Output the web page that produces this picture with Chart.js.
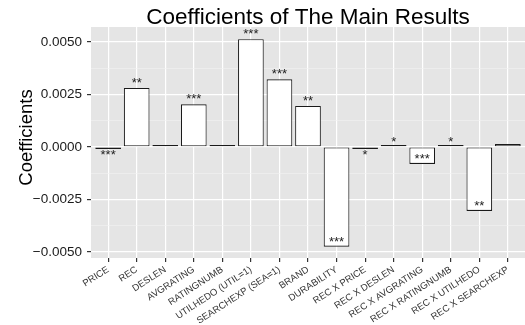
<!DOCTYPE html>
<html><head><meta charset="utf-8">
<script src="https://cdn.jsdelivr.net/npm/chart.js@4/dist/chart.umd.min.js"></script>
<style>html,body{margin:0;padding:0;background:#fff}#wrap{width:525px;height:325px}</style>
</head><body><div id="wrap"><canvas id="c" width="525" height="325"></canvas></div>
<script>
const categories = ['PRICE','REC','DESLEN','AVGRATING','RATINGNUMB','UTILHEDO (UTIL=1)','SEARCHEXP (SEA=1)','BRAND','DURABILITY','REC X PRICE','REC X DESLEN','REC X AVGRATING','REC X RATINGNUMB','REC X UTILHEDO','REC X SEARCHEXP'];
const coefficients = [-0.00003, 0.00281, 0.00002, 0.00203, 0.00002, 0.00513, 0.00322, 0.00195, -0.00475, -0.00003, 0.00002, -0.00081, 0.00002, -0.00305, 0.00014];
const significance = ['***','**','','***','','***','***','**','***','*','*','***','*','**',''];
const yTickValues = [-0.005, -0.0025, 0, 0.0025, 0.005];
const yLimits = [-0.00529, 0.00571];
const titleText = 'Coefficients of The Main Results';
const yAxisTitle = 'Coefficients';

const FONT = "'Liberation Sans', Arial, Helvetica, sans-serif";
const isMajor = v => yTickValues.some(t => Math.abs(t - v) < 1e-9);
const fmt = v => (Math.abs(v) < 1e-12 ? 0 : v).toFixed(4).replace('-', '\u2212');

const panelBg = {
  id: 'panelBg',
  beforeDraw(chart) {
    const a = chart.chartArea, ctx = chart.ctx;
    ctx.save(); ctx.fillStyle = '#e5e5e5';
    ctx.fillRect(a.left, a.top, a.right - a.left, a.bottom - a.top);
    ctx.restore();
  }
};
const titlePlugin = {
  id: 'ggTitle',
  afterDraw(chart) {
    const a = chart.chartArea, ctx = chart.ctx;
    ctx.save(); ctx.fillStyle = '#000'; ctx.font = '22.5px ' + FONT;
    ctx.textAlign = 'center'; ctx.textBaseline = 'alphabetic';
    ctx.fillText(titleText, (a.left + a.right) / 2, 23.5);
    // y axis title
    ctx.font = '18.5px ' + FONT;
    ctx.translate(32, (a.top + a.bottom) / 2 - 5);
    ctx.rotate(-Math.PI / 2);
    ctx.fillText(yAxisTitle, 0, 0);
    ctx.restore();
  }
};
const starPlugin = {
  id: 'stars',
  afterDatasetsDraw(chart) {
    const meta = chart.getDatasetMeta(0), ys = chart.scales.y, ctx = chart.ctx;
    ctx.save(); ctx.fillStyle = '#222'; ctx.font = '13px ' + FONT;
    ctx.textAlign = 'center'; ctx.textBaseline = 'alphabetic';
    coefficients.forEach((v, i) => {
      const s = significance[i]; if (!s) return;
      const pv = (v < 0 && v > -0.0002) ? v - 0.0002 : v + 0.0004;
      const cy = ys.getPixelForValue(pv);
      ctx.fillText(s, meta.data[i].x, cy + 7.5);
    });
    ctx.restore();
  }
};

new Chart(document.getElementById('c'), {
  type: 'bar',
  data: {
    labels: categories,
    datasets: [{
      data: coefficients,
      backgroundColor: '#ffffff',
      borderColor: '#1a1a1a',
      borderWidth: 1.1,
      borderSkipped: false,
      minBarLength: 2,
      categoryPercentage: 1,
      barPercentage: 0.9
    }]
  },
  options: {
    responsive: false, animation: false, devicePixelRatio: 1,
    layout: { padding: { top: 27, right: 0, left: 0, bottom: 0 } },
    plugins: { legend: { display: false }, tooltip: { enabled: false }, title: { display: false } },
    scales: {
      x: {
        type: 'category', offset: true,
        afterBuildTicks(s) { s._startValue = s.min - 0.6; s._valueRange = s.max - s.min + 1.2; },
        afterFit(s) { s.height = 67; },
        border: { display: false },
        grid: { offset: false, color: '#ffffff', lineWidth: 1.2, tickColor: '#333', tickLength: 4, drawTicks: true },
        ticks: { font: { family: FONT, size: 9.5 }, color: '#333', minRotation: 33, maxRotation: 33, autoSkip: false, padding: 2 }
      },
      y: {
        min: yLimits[0], max: yLimits[1],
        afterBuildTicks(s) {
          const t = [];
          for (let k = 0; k < yTickValues.length; k++) {
            t.push({ value: yTickValues[k] });
            if (k < yTickValues.length - 1) t.push({ value: (yTickValues[k] + yTickValues[k + 1]) / 2 });
          }
          s.ticks = t;
        },
        afterFit(s) { s.width = 91; },
        border: { display: false },
        grid: {
          color: c => isMajor(c.tick.value) ? '#ffffff' : '#f2f2f2',
          lineWidth: c => isMajor(c.tick.value) ? 1.2 : 0.6,
          tickColor: c => isMajor(c.tick.value) ? '#333' : 'rgba(0,0,0,0)',
          tickLength: 4, drawTicks: true
        },
        ticks: { autoSkip: false, font: { family: FONT, size: 13.5 }, color: '#1a1a1a', padding: 5,
          callback: v => isMajor(v) ? fmt(v) : '' },
        title: { display: false }
      }
    }
  },
  plugins: [panelBg, titlePlugin, starPlugin]
});
</script></body></html>
